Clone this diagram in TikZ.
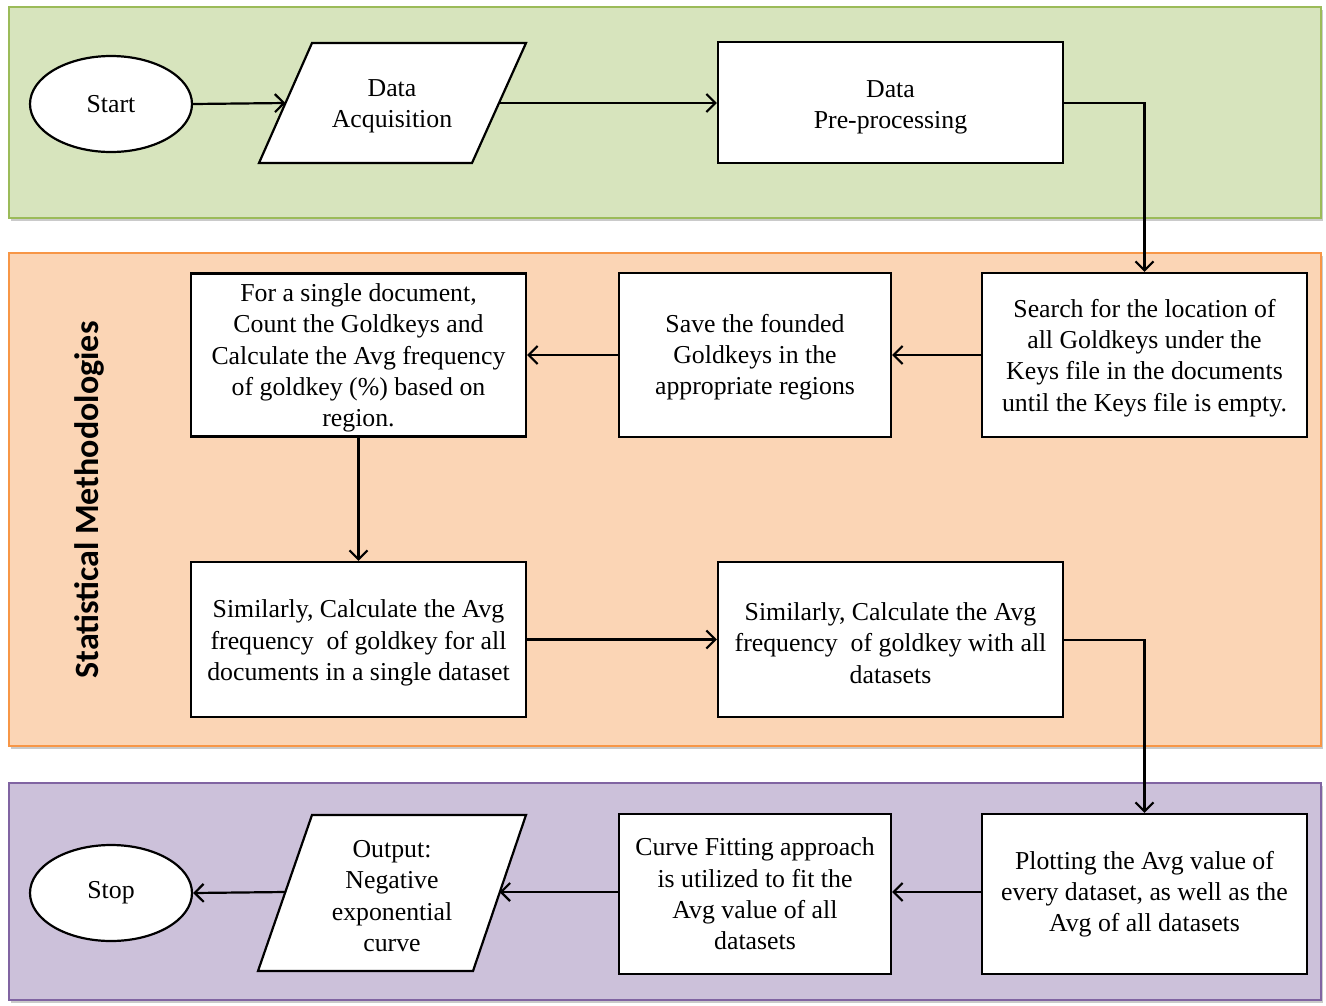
\documentclass[tikz,border=0pt]{standalone}
\usepackage{fontspec}
\setmainfont{Liberation Serif}
\newfontfamily\bandfont{Carlito}
\usetikzlibrary{shadows,calc,arrows.meta,shapes.geometric}
\definecolor{greenfill}{HTML}{D7E4BD}
\definecolor{greenline}{HTML}{9BBB59}
\definecolor{orangefill}{HTML}{FBD5B5}
\definecolor{orangeline}{HTML}{F79646}
\definecolor{purplefill}{HTML}{CCC1DA}
\definecolor{purpleline}{HTML}{8064A2}
\begin{document}
\begin{tikzpicture}[x=1pt,y=-1pt,
  band/.style={line width=1.2pt, drop shadow={shadow xshift=2pt,shadow yshift=-3pt,opacity=0.35,fill=black!60}},
  procbox/.style={draw=black, fill=white, line width=2.2pt, rectangle, align=center, inner sep=0pt},
  txt/.style={font=\fontsize{25.8}{31.3}\selectfont},
  term/.style={draw=black, fill=white, line width=2.2pt, ellipse, minimum width=162pt, minimum height=96pt, inner sep=0pt, font=\fontsize{25.8}{31.3}\selectfont},
  flow/.style={line width=2.2pt, -{Straight Barb[length=9pt,width=18pt,line width=2.2pt]}},
  para/.style={draw=black, fill=white, line width=2.2pt, line join=miter}
]
\useasboundingbox (0,0) rectangle (1326,1005);
% bands
\draw[band, draw=greenline, fill=greenfill] (9,7) rectangle (1321,218);
\draw[band, draw=orangeline, fill=orangefill] (9,253) rectangle (1321,746);
\draw[band, draw=purpleline, fill=purplefill] (9,783) rectangle (1321,1000);
\node[rotate=90, font=\bandfont\bfseries\fontsize{34}{40}\selectfont] (lbl) at (89,500) {Statistical Methodologies};

% Start
\node[term] (start) at (111,104) {Start};
% Data Acquisition parallelogram
\path[para] (312,43) -- (526,43) -- (472,163) -- (259,163) -- cycle;
\node[txt, align=center] (da) at (392,106) {Data\\Acquisition};
\coordinate (daL) at (285.5,103);
\coordinate (daR) at (499,103);
% Data Pre-processing
\node[procbox, minimum width=345pt, minimum height=121pt] (dp) at (890.5,102.5) {};
\node[txt, align=center] (dpt) at (890.5,107) {Data\\Pre-processing};

% Search
\node[procbox, minimum width=325pt, minimum height=164pt] (search) at (1144.5,355) {};
\node[txt, align=center] (searcht) at (1144.5,358) {Search for the location of\\all Goldkeys under the\\Keys file in the documents\\until the Keys file is empty.};
% Save
\node[procbox, minimum width=272pt, minimum height=164pt] (save) at (755,355) {};
\node[txt, align=center] (savet) at (755,357) {Save the founded\\Goldkeys in the\\appropriate regions};
% For a single document
\node[procbox, minimum width=335pt, minimum height=163pt] (single) at (358.5,355) {};
\node[txt, align=center] (singlet) at (358.5,358) {For a single document,\\Count the Goldkeys and\\Calculate the Avg frequency\\of goldkey (\%) based on\\region.};
% Similarly 1
\node[procbox, minimum width=335pt, minimum height=155pt] (sim1) at (358.5,639.5) {};
\node[txt, align=center] (sim1t) at (358.5,643) {Similarly, Calculate the Avg\\frequency~ of goldkey for all\\documents in a single dataset};
% Similarly 2
\node[procbox, minimum width=345pt, minimum height=155pt] (sim2) at (890.5,639.5) {};
\node[txt, align=center] (sim2t) at (890.5,643) {Similarly, Calculate the Avg\\frequency~ of goldkey with all\\datasets};

% Plotting
\node[procbox, minimum width=325pt, minimum height=160pt] (plot) at (1144.5,894) {};
\node[txt, align=center] (plott) at (1144.5,894) {Plotting the Avg value of\\every dataset, as well as the\\Avg of all datasets};
% Curve fitting
\node[procbox, minimum width=272pt, minimum height=160pt] (curve) at (755,894) {};
\node[txt, align=center] (curvet) at (755,894) {Curve Fitting approach\\is utilized to fit the\\Avg value of all\\datasets};
% Output parallelogram
\path[para] (312,815) -- (526,815) -- (473,971) -- (258,971) -- cycle;
\node[txt, align=center] (out) at (392,896) {Output:\\Negative\\exponential\\curve};
\coordinate (outL) at (285,892);
\coordinate (outR) at (499.5,892);
% Stop
\node[term] (stop) at (111,893) {Stop};

% connectors
\draw[flow] (start.east) -- (daL);
\draw[flow] (daR) -- (dp.west |- daR);
\draw[flow] (dp.east |- 0,103) -| (search.north);
\draw[flow] (search.west) -- (save.east);
\draw[flow] (save.west) -- (single.east);
\draw[flow] (single.south) -- (sim1.north);
\draw[flow] (sim1.east) -- (sim2.west);
\draw[flow] (sim2.east |- 0,640) -| (plot.north);
\draw[flow] (plot.west |- 0,892) -- (curve.east |- 0,892);
\draw[flow] (curve.west |- 0,892) -- (outR);
\draw[flow] (outL) -- (stop.east);
\end{tikzpicture}
\end{document}
